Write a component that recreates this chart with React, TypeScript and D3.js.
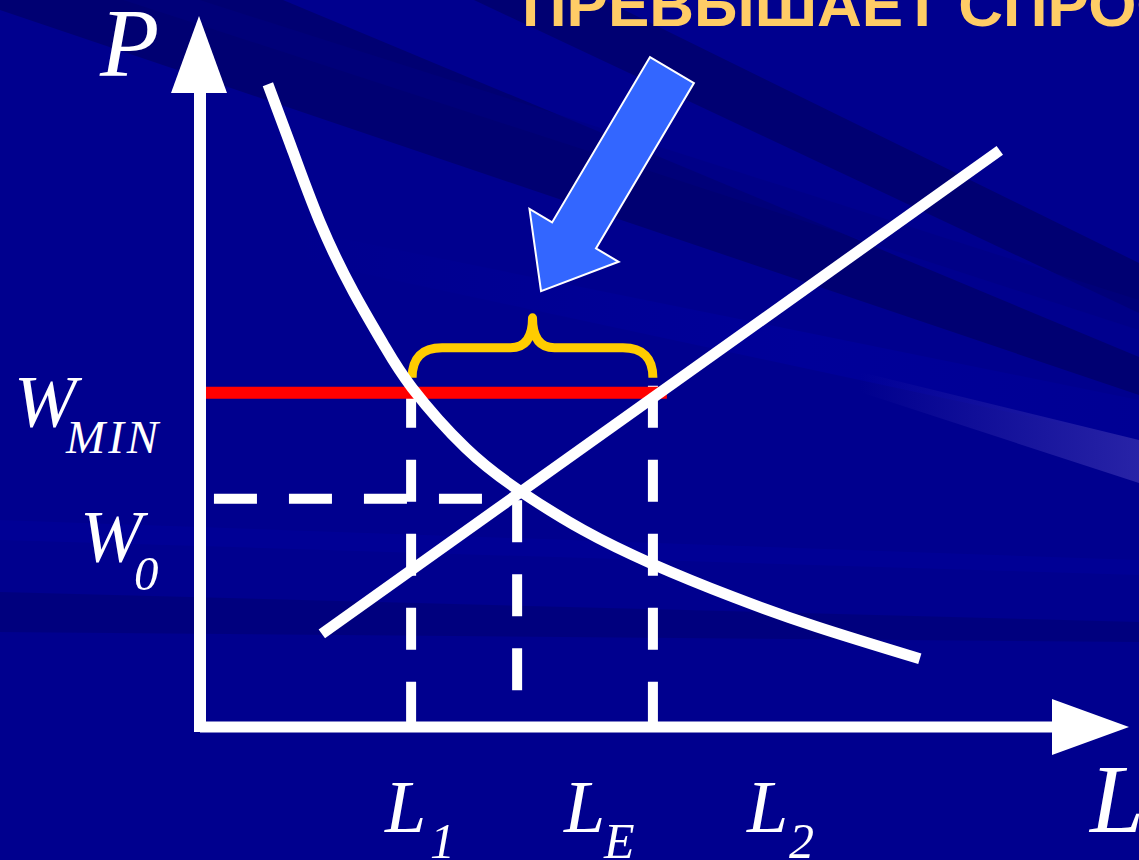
import React from "react";
import * as d3 from "d3";

// ---- data (economic units) ----
const demandL = [7.3, 9.7, 12.9, 16.5, 19.7, 22.8, 28.6, 34.4, 41.2, 48.7, 57.3, 66.3, 77.4];
const demandW = [90.4, 82.0, 71.0, 61.2, 53.9, 47.7, 39.2, 33.2, 27.7, 22.9, 18.3, 14.1, 9.6];
const supplyL = [13.1, 86.0];
const supplyW = [13.1, 81.1];
const levelNames = ["W_MIN", "W_0"];
const levelValues = [47.0, 32.1];
const qtyNames = ["L1", "LE", "L2"];
const qtyValues = [22.7, 34.1, 48.7];
const minWageSpan = [0.5, 50.2];
const arrowTail = [50.75, 92.4];
const arrowTip = [36.67, 61.3];
const titleText = "ПРЕВЫШАЕТ СПРОС";

const W = 1139;
const H = 860;

export default function App() {
  const x = d3.scaleLinear().domain([0, 100]).range([200, 1130]);
  const y = d3.scaleLinear().domain([0, 100]).range([727, 16]);

  const [WMIN, W0] = levelValues;
  const [L1, LE, L2] = qtyValues;

  const demandPts: [number, number][] = demandL.map((l, i) => [l, demandW[i]]);
  const supplyPts: [number, number][] = supplyL.map((l, i) => [l, supplyW[i]]);
  const line = d3
    .line<[number, number]>()
    .x((d) => x(d[0]))
    .y((d) => y(d[1]));
  const curve = d3
    .line<[number, number]>()
    .x((d) => x(d[0]))
    .y((d) => y(d[1]))
    .curve(d3.curveNatural);

  // axes geometry
  const ax0 = x(0);
  const ay0 = y(0);
  const yTip = y(100);
  const xTip = x(100) - 1;
  const headLen = 77;
  const headHalf = 28;

  // blue arrow
  const tx = x(arrowTail[0]), ty = y(arrowTail[1]);
  const px = x(arrowTip[0]), py = y(arrowTip[1]);
  const len = Math.hypot(px - tx, py - ty);
  const dx = (px - tx) / len, dy = (py - ty) / len;
  const nx = -dy, ny = dx;
  const shaftHalf = 25.5, aHeadHalf = 51.8, aHeadLen = 64.8;
  const bx = px - dx * aHeadLen, by = py - dy * aHeadLen;
  const arrowPts = [
    [tx + nx * shaftHalf, ty + ny * shaftHalf],
    [bx + nx * shaftHalf, by + ny * shaftHalf],
    [bx + nx * aHeadHalf, by + ny * aHeadHalf],
    [px, py],
    [bx - nx * aHeadHalf, by - ny * aHeadHalf],
    [bx - nx * shaftHalf, by - ny * shaftHalf],
    [tx - nx * shaftHalf, ty - ny * shaftHalf],
  ];
  const arrowPath = "M" + arrowPts.map((p) => p.join(",")).join("L") + "Z";

  // brace
  const bxl = x(L1) + 1, bxr = x(L2);
  const bxm = (bxl + bxr) / 2;
  const byb = y(WMIN) - 15, bym = y(WMIN) - 45, byp = y(WMIN) - 75;
  const r = 30;
  const bracePath = `M${bxl},${byb} Q${bxl},${bym} ${bxl + r},${bym} L${bxm - 22},${bym} Q${bxm},${bym} ${bxm},${byp} Q${bxm},${bym} ${bxm + 22},${bym} L${bxr - r},${bym} Q${bxr},${bym} ${bxr},${byb}`;

  const serif = "'Liberation Serif', 'Times New Roman', serif";

  return (
    <svg
      width={W}
      height={H}
      style={{ position: "fixed", left: 0, top: 0, display: "block" }}
    >
      <defs>
        <linearGradient id="streak" gradientUnits="userSpaceOnUse" x1={860} y1={0} x2={1139} y2={0}>
          <stop offset="0" stopColor="#2a25a8" stopOpacity={0} />
          <stop offset="1" stopColor="#2a25a8" stopOpacity={0.95} />
        </linearGradient>
        <linearGradient id="lane" gradientUnits="userSpaceOnUse" x1={300} y1={0} x2={1139} y2={0}>
          <stop offset="0" stopColor="#0000a4" stopOpacity={0} />
          <stop offset="0.6" stopColor="#0000a4" stopOpacity={0.5} />
          <stop offset="1" stopColor="#0000a4" stopOpacity={0.25} />
        </linearGradient>
      </defs>
      {/* background */}
      <rect x={0} y={0} width={W} height={H} fill="#00008e" />
      <polygon points="0,0 283,0 1139,357 1139,395 0,10" fill="#000072" />
      <polygon points="474,0 604,0 1139,263 1139,313" fill="#000072" />
      <polygon points="0,-40 200,0 1139,300 1139,330" fill="#000080" opacity={0.5} />
      <polygon points="300,230 1139,400 1139,440 300,260" fill="url(#lane)" />
      <polygon points="860,372 1139,440 1139,483 860,392" fill="url(#streak)" />
      <polygon points="0,520 1139,560 1139,575 0,540" fill="#0000a0" opacity={0.4} />
      <polygon points="0,592 1139,622 1139,642 0,632" fill="#00007a" opacity={0.8} />

      {/* title (partially visible) */}
      <text
        x={522}
        y={26}
        fill="#ffcc66"
        fontFamily="'Liberation Sans', Arial, sans-serif"
        fontWeight="bold"
        fontSize={62}
      >
        {titleText}
      </text>

      {/* blue arrow */}
      <path d={arrowPath} fill="#3366ff" stroke="#ffffff" strokeWidth={2} strokeLinejoin="miter" />

      {/* dashed guides */}
      <line x1={x(1.5)} x2={x(LE)} y1={y(W0)} y2={y(W0)} stroke="#fff" strokeWidth={10} strokeDasharray="43,32" />
      <line x1={x(L1)} x2={x(L1)} y1={y(48)} y2={ay0} stroke="#fff" strokeWidth={10} strokeDasharray="42,32" />
      <line x1={x(L2)} x2={x(L2)} y1={y(48)} y2={ay0} stroke="#fff" strokeWidth={10} strokeDasharray="42,32" />
      <line x1={x(LE)} x2={x(LE)} y1={y(31.9)} y2={y(5.06)} stroke="#fff" strokeWidth={10} strokeDasharray="42,32" />

      {/* minimum wage line */}
      <line x1={x(minWageSpan[0])} x2={x(minWageSpan[1])} y1={y(WMIN)} y2={y(WMIN)} stroke="#ff0000" strokeWidth={12} />

      {/* brace */}
      <path d={bracePath} fill="none" stroke="#ffcc00" strokeWidth={9} strokeLinejoin="round" />

      {/* supply & demand */}
      <path d={line(supplyPts) || ""} fill="none" stroke="#fff" strokeWidth={11} />
      <path d={curve(demandPts) || ""} fill="none" stroke="#fff" strokeWidth={11} />

      {/* axes */}
      <line x1={ax0} x2={ax0} y1={ay0 + 5} y2={yTip + headLen - 1} stroke="#fff" strokeWidth={12} />
      <polygon points={`${ax0 - 1},${yTip} ${ax0 - 1 - headHalf},${yTip + headLen} ${ax0 - 1 + headHalf},${yTip + headLen}`} fill="#fff" />
      <line x1={ax0} x2={xTip - headLen + 1} y1={ay0} y2={ay0} stroke="#fff" strokeWidth={11} />
      <polygon points={`${xTip},${ay0} ${xTip - headLen},${ay0 - headHalf} ${xTip - headLen},${ay0 + headHalf}`} fill="#fff" />

      {/* axis labels */}
      <text x={100} y={76} fill="#fff" fontFamily={serif} fontStyle="italic" fontSize={97}>P</text>
      <text x={1090} y={832} fill="#fff" fontFamily={serif} fontStyle="italic" fontSize={97}>L</text>

      {/* level labels */}
      <text x={14} y={427} fill="#fff" fontFamily={serif} fontStyle="italic" fontSize={75}>W</text>
      <text x={66} y={453} fill="#fff" fontFamily={serif} fontStyle="italic" fontSize={47} letterSpacing={3}>MIN</text>
      <text x={80} y={562} fill="#fff" fontFamily={serif} fontStyle="italic" fontSize={75}>W</text>
      <text x={134} y={590} fill="#fff" fontFamily={serif} fontStyle="italic" fontSize={49}>0</text>

      {/* quantity labels */}
      <text x={385} y={832} fill="#fff" fontFamily={serif} fontStyle="italic" fontSize={74}>L</text>
      <text x={430} y={858} fill="#fff" fontFamily={serif} fontStyle="italic" fontSize={50}>1</text>
      <text x={564} y={832} fill="#fff" fontFamily={serif} fontStyle="italic" fontSize={74}>L</text>
      <text x={604} y={858} fill="#fff" fontFamily={serif} fontStyle="italic" fontSize={50}>E</text>
      <text x={747} y={832} fill="#fff" fontFamily={serif} fontStyle="italic" fontSize={74}>L</text>
      <text x={789} y={858} fill="#fff" fontFamily={serif} fontStyle="italic" fontSize={50}>2</text>
    </svg>
  );
}
